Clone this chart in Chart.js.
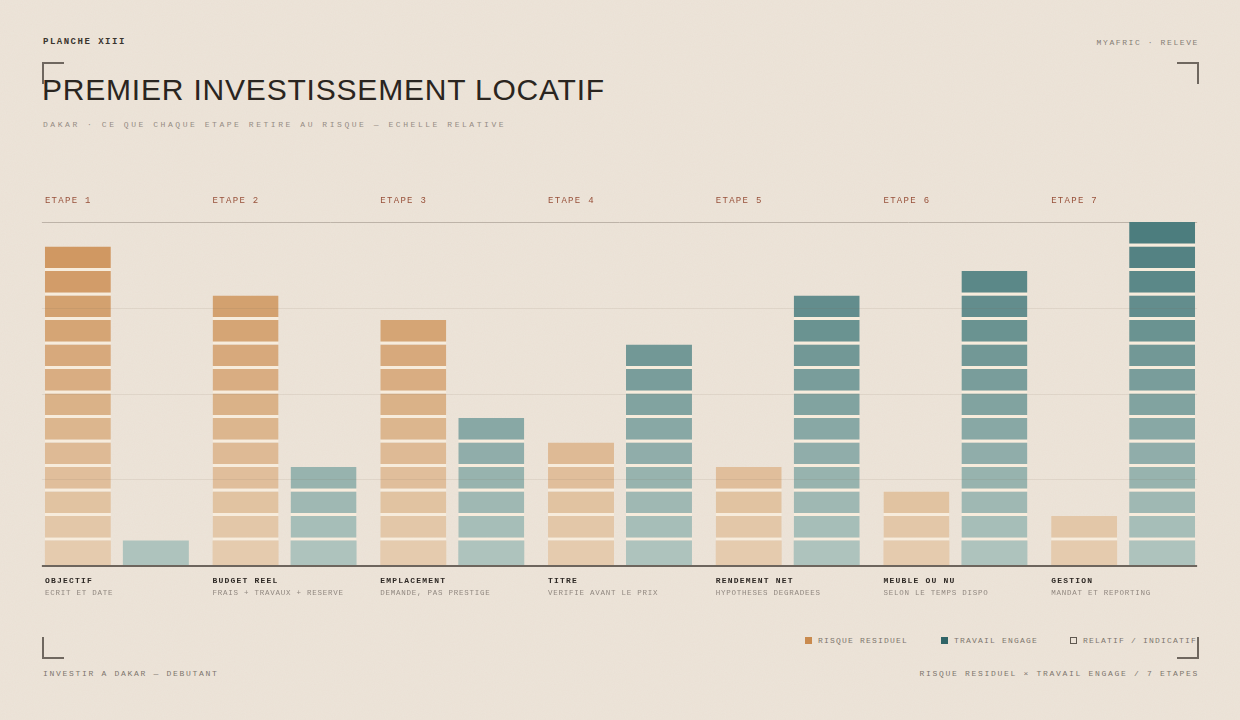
<!DOCTYPE html>
<html lang="fr">
<head>
<meta charset="utf-8">
<title>Premier investissement locatif</title>
<script src="https://cdn.jsdelivr.net/npm/chart.js@4.4.1/dist/chart.umd.min.js"></script>
<style>
  html, body { margin: 0; padding: 0; }
  body {
    width: 1240px; height: 720px; position: relative; overflow: hidden;
    background-color: #ede4d9;
    background-image: url("data:image/svg+xml;utf8,<svg xmlns='http://www.w3.org/2000/svg' width='240' height='240'><filter id='n'><feTurbulence type='fractalNoise' baseFrequency='0.9' numOctaves='2' stitchTiles='stitch'/><feColorMatrix values='0 0 0 0 0.45 0 0 0 0 0.38 0 0 0 0 0.30 0 0 0 0.06 0'/></filter><rect width='240' height='240' filter='url(%23n)'/></svg>");
    font-family: "Liberation Mono", "DejaVu Sans Mono", monospace;
  }
  .t { position: absolute; white-space: nowrap; line-height: 1; }
  .corner { position: absolute; width: 20px; height: 20px; border-color: #6f675f; border-style: solid; border-width: 0; }
  .sq { position: absolute; width: 7px; height: 7px; top: 637px; }
  #wrap { position: absolute; left: 0; top: 180px; width: 1240px; height: 440px; }
</style>
</head>
<body>

<div class="t" style="left:43px; top:38px; font-size:9px; font-weight:bold; letter-spacing:1.5px; color:#3a342e;">PLANCHE XIII</div>
<div class="t" style="right:41px; top:39px; font-size:8px; letter-spacing:1.6px; color:#857d75;">MYAFRIC · RELEVE</div>

<div class="corner" style="left:42px; top:62px; border-top-width:2px; border-left-width:2px;"></div>
<div class="corner" style="left:1177px; top:62px; border-top-width:2px; border-right-width:2px;"></div>
<div class="corner" style="left:42px; top:637px; border-bottom-width:2px; border-left-width:2px;"></div>
<div class="corner" style="left:1177px; top:637px; border-bottom-width:2px; border-right-width:2px;"></div>

<div class="t" style="left:42px; top:75px; font-family:'Liberation Sans', Arial, sans-serif; font-size:30px; letter-spacing:0.8px; color:#2a2520;">PREMIER INVESTISSEMENT LOCATIF</div>
<div class="t" style="left:43px; top:121px; font-size:8px; letter-spacing:2.55px; color:#958c84;">DAKAR · CE QUE CHAQUE ETAPE RETIRE AU RISQUE — ECHELLE RELATIVE</div>

<div id="wrap"><canvas id="chart" width="1240" height="440"></canvas></div>

<div class="sq" style="left:805px; background:#c98a4e;"></div>
<div class="t" style="left:818px; top:637px; font-size:8px; letter-spacing:1.2px; color:#7d756d;">RISQUE RESIDUEL</div>
<div class="sq" style="left:941px; background:#2f6467;"></div>
<div class="t" style="left:954px; top:637px; font-size:8px; letter-spacing:1.2px; color:#7d756d;">TRAVAIL ENGAGE</div>
<div class="sq" style="left:1070px; width:5px; height:5px; border:1.5px solid #5f5850;"></div>
<div class="t" style="left:1083px; top:637px; font-size:8px; letter-spacing:1.2px; color:#7d756d;">RELATIF / INDICATIF</div>

<div class="t" style="left:43px; top:670px; font-size:8px; letter-spacing:1.7px; color:#7d756d;">INVESTIR A DAKAR — DEBUTANT</div>
<div class="t" style="right:41px; top:670px; font-size:8px; letter-spacing:1.7px; color:#7d756d;">RISQUE RESIDUEL × TRAVAIL ENGAGE / 7 ETAPES</div>

<script>
// stages of the chart
const stages = ['ETAPE 1', 'ETAPE 2', 'ETAPE 3', 'ETAPE 4', 'ETAPE 5', 'ETAPE 6', 'ETAPE 7'];
const stepNames = ['OBJECTIF', 'BUDGET REEL', 'EMPLACEMENT', 'TITRE', 'RENDEMENT NET', 'MEUBLE OU NU', 'GESTION'];
const stepNotes = ['ECRIT ET DATE', 'FRAIS + TRAVAUX + RESERVE', 'DEMANDE, PAS PRESTIGE', 'VERIFIE AVANT LE PRIX',
                   'HYPOTHESES DEGRADEES', 'SELON LE TEMPS DISPO', 'MANDAT ET REPORTING'];

// values, in blocks
const risk = [13, 11, 10, 5, 4, 3, 2];
const work = [1, 4, 6, 9, 11, 12, 14];
const maxBlocks = 14;
const gridStep = 3.5;

// colour of a block, lighter at the bottom, darker at the top
function mix(a, b, t) {
    const r = Math.round(a[0] + (b[0] - a[0]) * t);
    const g = Math.round(a[1] + (b[1] - a[1]) * t);
    const bl = Math.round(a[2] + (b[2] - a[2]) * t);
    return `rgb(${r}, ${g}, ${bl})`;
}
const riskLight = [229, 203, 174], riskDark = [206, 148, 92];
const workLight = [174, 195, 189], workDark = [76, 125, 126];

// one dataset per block level, stacked
const datasets = [];
function addLevels(values, stack, light, dark) {
    for (let k = 1; k <= maxBlocks; k++) {
        datasets.push({
            label: stack + ' ' + k,
            stack: stack,
            data: values.map(v => v >= k ? 1 : null),
            backgroundColor: mix(light, dark, (k - 1) / (maxBlocks - 1)),
            borderColor: '#f7ecdc',
            borderWidth: k === 1 ? 0 : { top: 0, left: 0, right: 0, bottom: 3 },
            borderSkipped: false,
            barPercentage: 0.846,
            categoryPercentage: 0.93,
        });
    }
}
addLevels(risk, 'risque', riskLight, riskDark);
addLevels(work, 'travail', workLight, workDark);

// lines and labels around the bars
const framePlugin = {
    id: 'frame',
    beforeDatasetsDraw(chart) {
        const ctx = chart.ctx;
        const y = chart.scales.y;
        const first = chart.getDatasetMeta(0).data[0];
        const last = chart.getDatasetMeta(maxBlocks).data[stages.length - 1];
        const left = first.x - first.width / 2 - 3;
        const right = last.x + last.width / 2 + 2;
        ctx.save();
        ctx.strokeStyle = '#bdb3a8';
        ctx.lineWidth = 1;
        ctx.beginPath();
        ctx.moveTo(left, Math.round(y.getPixelForValue(maxBlocks)) + 0.5);
        ctx.lineTo(right, Math.round(y.getPixelForValue(maxBlocks)) + 0.5);
        ctx.stroke();
        ctx.restore();
    },
    afterDatasetsDraw(chart) {
        const ctx = chart.ctx;
        const y = chart.scales.y;
        const area = chart.chartArea;
        const first = chart.getDatasetMeta(0).data[0];
        const last = chart.getDatasetMeta(maxBlocks).data[stages.length - 1];
        const left = first.x - first.width / 2 - 3;
        const right = last.x + last.width / 2 + 2;
        ctx.save();
        // faint guide lines
        ctx.strokeStyle = 'rgba(120, 100, 80, 0.11)';
        ctx.lineWidth = 1;
        for (let v = gridStep; v < maxBlocks; v += gridStep) {
            const py = Math.round(y.getPixelForValue(v)) + 0.5;
            ctx.beginPath();
            ctx.moveTo(left, py);
            ctx.lineTo(right, py);
            ctx.stroke();
        }
        // base line
        ctx.strokeStyle = '#6d655d';
        ctx.lineWidth = 2;
        ctx.beginPath();
        ctx.moveTo(left, y.getPixelForValue(0) + 1);
        ctx.lineTo(right, y.getPixelForValue(0) + 1);
        ctx.stroke();

        // labels
        ctx.textBaseline = 'middle';
        ctx.textAlign = 'left';
        chart.getDatasetMeta(0).data.forEach((bar, i) => {
            const x = bar.x - bar.width / 2;
            ctx.letterSpacing = '1.3px';
            ctx.font = '9px "Liberation Mono", monospace';
            ctx.fillStyle = '#98513a';
            ctx.fillText(stages[i], x, area.top - 21);

            ctx.letterSpacing = '1.2px';
            ctx.font = 'bold 8px "Liberation Mono", monospace';
            ctx.fillStyle = '#2e2925';
            ctx.fillText(stepNames[i], x, area.bottom + 16);

            ctx.letterSpacing = '0.75px';
            ctx.font = '7.5px "Liberation Mono", monospace';
            ctx.fillStyle = '#918880';
            ctx.fillText(stepNotes[i], x, area.bottom + 28);
        });
        ctx.restore();
    }
};

const chart = new Chart(document.getElementById('chart'), {
    type: 'bar',
    data: {
        labels: stages,
        datasets: datasets,
    },
    options: {
        responsive: false,
        animation: false,
        devicePixelRatio: 1,
        layout: {
            padding: { left: 33, right: 33, top: 42, bottom: 55 },
        },
        plugins: {
            legend: { display: false },
            tooltip: { enabled: false },
        },
        scales: {
            x: {
                stacked: true,
                display: false,
            },
            y: {
                stacked: true,
                display: false,
                min: 0,
                max: maxBlocks,
            },
        },
    },
    plugins: [framePlugin],
});
</script>
</body>
</html>
